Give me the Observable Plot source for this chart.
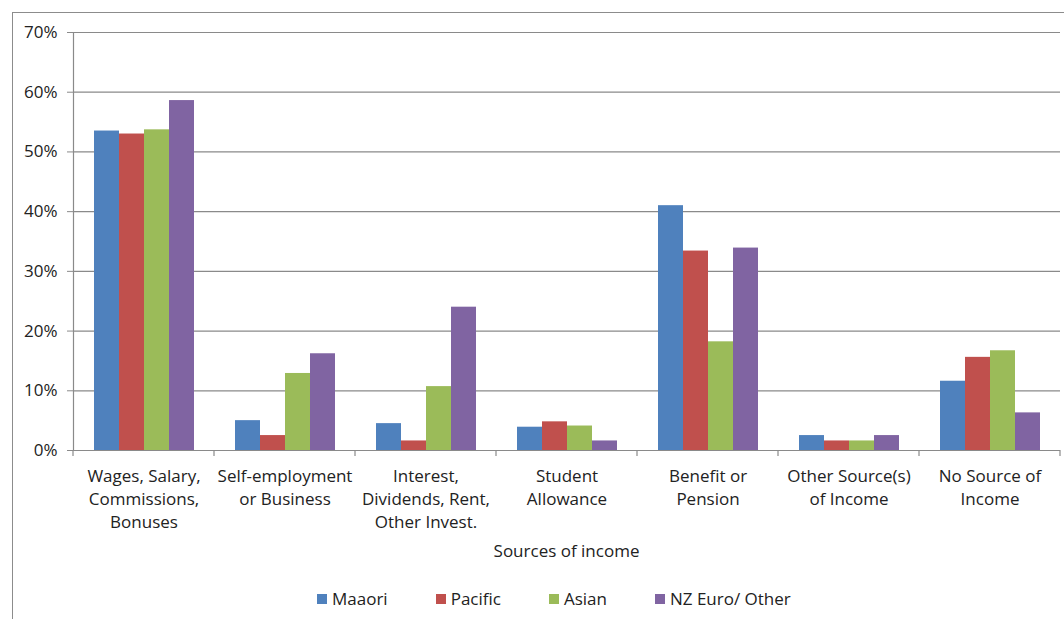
<!DOCTYPE html>
<html>
<head>
<meta charset="utf-8">
<script src="https://cdn.jsdelivr.net/npm/d3@7"></script>
<script src="https://cdn.jsdelivr.net/npm/@observablehq/plot@0.6"></script>
<style>
  html, body { margin: 0; padding: 0; background: #fff; }
  #wrap { position: relative; width: 1064px; height: 619px; overflow: hidden; font-family: "Open Sans", Lato, sans-serif; color: #222; }
  #frame { position: absolute; left: 12px; top: 12px; width: 1100px; height: 700px; border-left: 1px solid #8c8c8c; border-top: 1px solid #8c8c8c; }
  #chart { position: absolute; left: 0; top: 0; }
  #xtitle { position: absolute; left: 73px; width: 987px; top: 539px; line-height: 24px; text-align: center; font-size: 17px; }
  #legend { position: absolute; left: 317px; top: 587px; line-height: 24px; display: flex; align-items: center; font-size: 17px; }
  .item { display: flex; align-items: center; margin-right: 48px; }
  .sw { width: 10px; height: 10px; margin-right: 5px; }
</style>
</head>
<body>
<div id="wrap">
  <div id="frame"></div>
  <div id="chart"></div>
  <div id="xtitle">Sources of income</div>
  <div id="legend"></div>
</div>
<script>
const categories = ["Wages", "SelfEmp", "Interest", "Student", "Benefit", "Other", "None"];
const categoryLabels = [
  "Wages, Salary,\nCommissions,\nBonuses",
  "Self-employment\nor Business",
  "Interest,\nDividends, Rent,\nOther Invest.",
  "Student\nAllowance",
  "Benefit or\nPension",
  "Other Source(s)\nof Income",
  "No Source of\nIncome"
];
const series = ["Maaori", "Pacific", "Asian", "NZ Euro/ Other"];
const colors = ["#4F81BD", "#C0504D", "#9BBB59", "#8064A2"];
const maaori  = [53.5, 5.0, 4.5, 3.9, 41.0, 2.5, 11.6];
const pacific = [53.0, 2.5, 1.6, 4.8, 33.4, 1.6, 15.6];
const asian   = [53.7, 12.9, 10.7, 4.1, 18.2, 1.6, 16.7];
const nzeuro  = [58.6, 16.2, 24.0, 1.6, 33.9, 2.5, 6.3];
const yTicks = [0, 10, 20, 30, 40, 50, 60, 70];

const seriesValues = [maaori, pacific, asian, nzeuro];
const data = [];
categories.forEach((c, i) => series.forEach((s, j) => data.push({category: c, series: s, value: seriesValues[j][i]})));
const labelOf = Object.fromEntries(categories.map((c, i) => [c, categoryLabels[i]]));

const gridColor = "#8a8a8a";
const plot = Plot.plot({
  width: 1064,
  height: 540,
  marginLeft: 73,
  marginRight: 4,
  marginTop: 32,
  marginBottom: 90,
  style: {fontFamily: "'Open Sans', Lato, sans-serif", fontSize: "17px", color: "#222", background: "transparent"},
  fx: {domain: categories, padding: 0, axis: null, label: null},
  x: {domain: series, paddingInner: 0, paddingOuter: 0.74, axis: null},
  y: {domain: [0, 70], label: null},
  color: {domain: series, range: colors},
  marks: [
    Plot.ruleY(yTicks, {stroke: gridColor, strokeWidth: 1.2}),
    Plot.frame({anchor: "left", facetAnchor: "left", stroke: gridColor, strokeWidth: 1.2}),
    Plot.axisY({ticks: yTicks, tickFormat: d => d + "%", tickSize: 6, tickPadding: 10, stroke: gridColor, fill: "#222", label: null, fontSize: 17}),
    Plot.barY(data, {fx: "category", x: "series", y: "value", fill: "series"}),
    Plot.text(categories, {fx: d => d, text: d => labelOf[d], frameAnchor: "bottom", dy: 15, lineAnchor: "top", lineHeight: 1.36, fontSize: 17, fill: "#222"})
  ]
});
document.getElementById("chart").appendChild(plot);

// category boundary ticks below the baseline, from the library's scales
const fx = plot.scale("fx"), y = plot.scale("y");
const y0 = y.apply(0);
const bounds = categories.map(c => fx.apply(c));
bounds.push(fx.apply(categories[categories.length - 1]) + fx.bandwidth);
d3.select(plot).append("g")
  .selectAll("line").data(bounds).join("line")
  .attr("x1", d => d).attr("x2", d => d)
  .attr("y1", y0).attr("y2", y0 + 6)
  .attr("stroke", gridColor).attr("stroke-width", 1.2);

// legend
const legend = d3.select("#legend");
series.forEach((s, i) => {
  const it = legend.append("div").attr("class", "item");
  it.append("div").attr("class", "sw").style("background", colors[i]);
  it.append("span").text(s);
});
</script>
</body>
</html>
